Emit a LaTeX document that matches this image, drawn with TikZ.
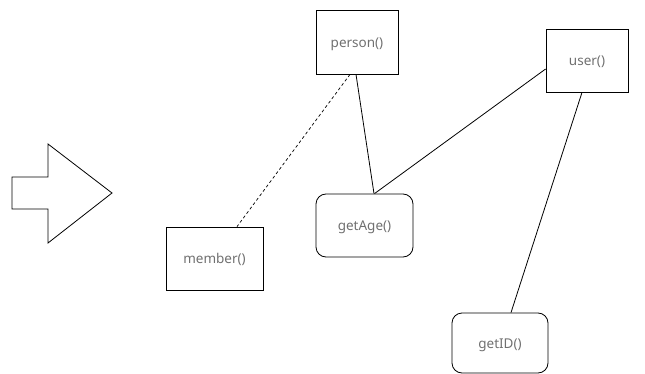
\documentclass[tikz,border=0pt]{standalone}
\usepackage{fontspec}
\setmainfont{Noto Sans}
\begin{document}
\begin{tikzpicture}[x=1pt,y=-1pt,
  every node/.style={font=\fontsize{13.5}{15}\selectfont, text=txtgray, text height=14pt, text depth=3.5pt},
  sqbox/.style={draw=black, line width=0.8pt, rectangle, inner sep=0pt},
  rbox/.style={draw=black, line width=0.8pt, rectangle, rounded corners=10pt, inner sep=0pt},
  link/.style={draw=black, line width=0.8pt},
  dlink/.style={draw=black, line width=0.7pt, dash pattern=on 3pt off 2.5pt}
]
\definecolor{txtgray}{HTML}{707070}
\useasboundingbox (0,0) rectangle (645,374);
% big arrow
\draw[line width=0.8pt, line join=miter] (12,177) -- (48,177) -- (48,144) -- (112,193) -- (48,243) -- (48,209) -- (12,209) -- cycle;
\node[sqbox, minimum width=82pt, minimum height=64pt] (person) at (357,42) {person()};
\node[sqbox, minimum width=82pt, minimum height=63pt] (user) at (587,60.5) {user()};
\node[sqbox, minimum width=97pt, minimum height=63pt] (member) at (214.5,258.5) {member()};
\node[rbox, minimum width=97pt, minimum height=63pt] (getAge) at (364.5,225.5) {getAge()};
\node[rbox, minimum width=96pt, minimum height=60pt] (getID) at (500,343) {getID()};
\draw[dlink] ([xshift=-7pt]person.south) -- ([xshift=22.5pt]member.north);
\draw[link] ([xshift=-1pt]person.south) -- ([xshift=9.5pt]getAge.north);
\draw[link] ([yshift=-8.5pt]user.west) -- ([xshift=10pt]getAge.north);
\draw[link] ([xshift=-5pt]user.south) -- ([xshift=11pt]getID.north);
\end{tikzpicture}
\end{document}
